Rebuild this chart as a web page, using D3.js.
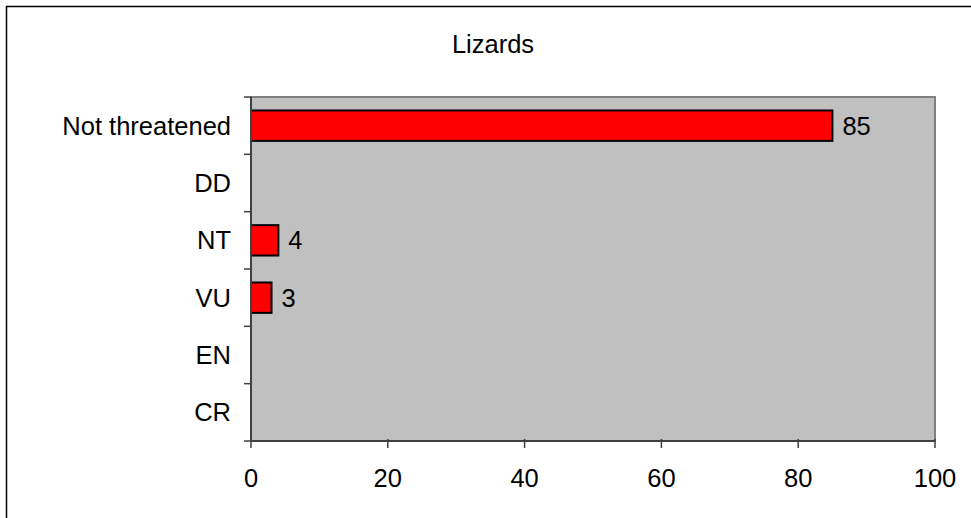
<!DOCTYPE html>
<html>
<head>
<meta charset="utf-8">
<script src="https://cdn.jsdelivr.net/npm/d3@7"></script>
<style>
  body { margin: 0; background: #fff; }
  svg { display: block; font-family: "Liberation Sans", Arial, sans-serif; }
</style>
</head>
<body>
<div id="chart"></div>
<script>
let categories = ["Not threatened", "DD", "NT", "VU", "EN", "CR"]
let counts = [85, 0, 4, 3, 0, 0]
let xTicks = [0, 20, 40, 60, 80, 100]
let title = "Lizards"

let width = 971, height = 518
let margin = { top: 97, left: 251, right: 36, bottom: 77 }
let bodyWidth = width - margin.left - margin.right
let bodyHeight = height - margin.top - margin.bottom
let fontSize = "25.5px"

let svg = d3.select("#chart").append("svg")
    .attr("width", width)
    .attr("height", height)

// outer chart frame (only left/top visible in the crop)
svg.append("path")
    .attr("d", "M6.5," + height + "V6.5H" + width)
    .attr("fill", "none")
    .attr("stroke", "#000")
    .attr("stroke-width", 1.5)

svg.append("text")
    .attr("x", 493)
    .attr("y", 44)
    .attr("dy", "0.35em")
    .attr("text-anchor", "middle")
    .style("font-size", fontSize)
    .text(title)

let g = svg.append("g")
    .attr("transform", "translate(" + [margin.left, margin.top] + ")")

let x = d3.scaleLinear().domain([0, 100]).range([0, bodyWidth])
let y = d3.scaleBand().domain(categories).range([0, bodyHeight]).paddingInner(0.47).paddingOuter(0.235)

// plot area
g.append("rect")
    .attr("width", bodyWidth)
    .attr("height", bodyHeight)
    .attr("fill", "#c0c0c0")
    .attr("stroke", "#808080")
    .attr("stroke-width", 2)

let barData = categories.map((c, i) => ({ cat: c, val: counts[i] })).filter(d => d.val > 0)

// bars
g.selectAll(".bar")
    .data(barData)
    .enter()
    .append("rect")
    .attr("x", x(0))
    .attr("y", d => y(d.cat))
    .attr("width", d => x(d.val) - x(0))
    .attr("height", y.bandwidth())
    .attr("fill", "#ff0000")
    .attr("stroke", "#000")
    .attr("stroke-width", 2)

g.selectAll(".val")
    .data(barData)
    .enter()
    .append("text")
    .attr("x", d => x(d.val) + 10)
    .attr("y", d => y(d.cat) + y.bandwidth() / 2)
    .attr("dy", "0.35em")
    .style("font-size", fontSize)
    .text(d => d.val)

// y axis: ticks at band boundaries
let step = bodyHeight / categories.length
let yLine = g.append("g")
yLine.append("line")
    .attr("x1", 0).attr("x2", 0)
    .attr("y1", 0).attr("y2", bodyHeight)
    .attr("stroke", "#404040").attr("stroke-width", 2)
d3.range(categories.length + 1).forEach(i => {
    yLine.append("line")
        .attr("x1", -7).attr("x2", 0)
        .attr("y1", i * step).attr("y2", i * step)
        .attr("stroke", "#404040").attr("stroke-width", 1.5)
})
g.selectAll(".cat")
    .data(categories)
    .enter()
    .append("text")
    .attr("x", -20)
    .attr("y", d => y(d) + y.bandwidth() / 2)
    .attr("dy", "0.35em")
    .attr("text-anchor", "end")
    .style("font-size", fontSize)
    .text(d => d)

// x axis
let xg = g.append("g").attr("transform", "translate(0," + bodyHeight + ")")
xg.append("line")
    .attr("x1", 0).attr("x2", bodyWidth)
    .attr("stroke", "#404040").attr("stroke-width", 2)
xg.selectAll(".tick")
    .data(xTicks)
    .enter()
    .append("line")
    .attr("x1", d => x(d)).attr("x2", d => x(d))
    .attr("y1", -2).attr("y2", 7)
    .attr("stroke", "#404040").attr("stroke-width", 1.5)
xg.selectAll(".tl")
    .data(xTicks)
    .enter()
    .append("text")
    .attr("x", d => x(d))
    .attr("y", 37)
    .attr("dy", "0.35em")
    .attr("text-anchor", "middle")
    .style("font-size", fontSize)
    .text(d => d)
</script>
</body>
</html>
